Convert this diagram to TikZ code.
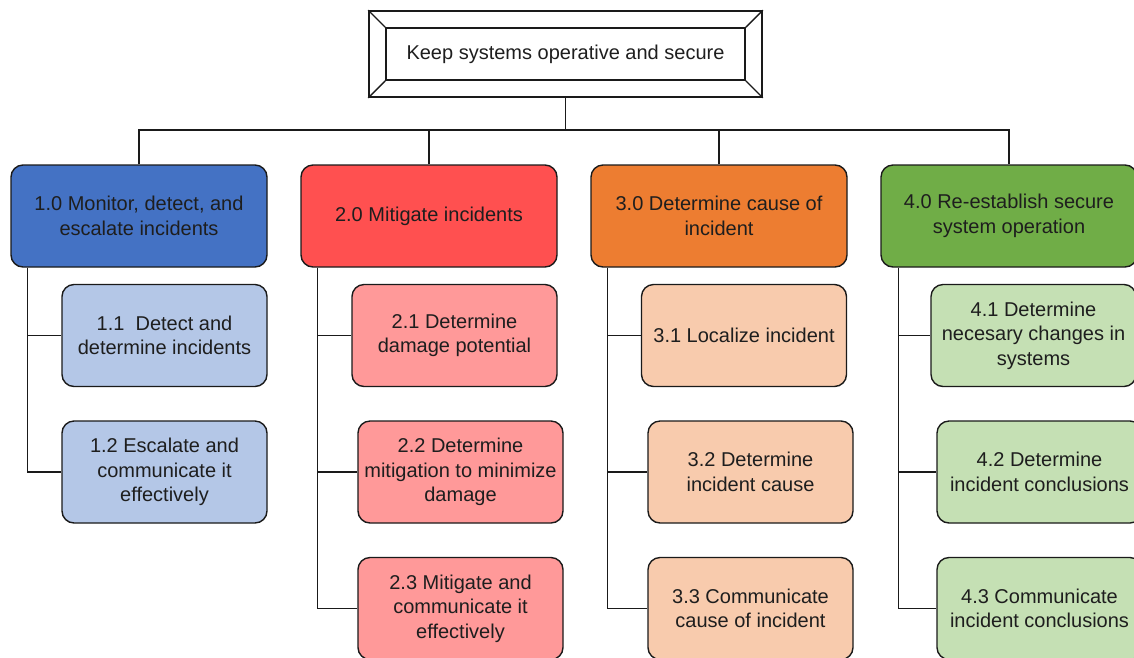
\documentclass[tikz,border=0pt]{standalone}
\usepackage{fontspec}
\setmainfont{Liberation Sans}
\usetikzlibrary{calc}
\definecolor{cBlue}{HTML}{4472C4}
\definecolor{cRed}{HTML}{FF5050}
\definecolor{cOrange}{HTML}{ED7D31}
\definecolor{cGreen}{HTML}{70AD47}
\definecolor{lBlue}{HTML}{B4C7E7}
\definecolor{lRed}{HTML}{FF9999}
\definecolor{lOrange}{HTML}{F8CBAD}
\definecolor{lGreen}{HTML}{C5E0B4}
\definecolor{txt}{HTML}{1E1E1E}
\definecolor{edge}{HTML}{1A1A1A}
\begin{document}
\begin{tikzpicture}[x=1pt,y=-1pt,
  every node/.style={font=\fontsize{20}{24.5}\selectfont, text=txt},
  lvlbox/.style={draw=edge, line width=1.4pt, rounded corners=12pt, align=center,
    minimum width=256pt, minimum height=102pt, inner sep=0pt},
  subbox/.style={draw=edge, line width=1.4pt, rounded corners=12pt, align=center,
    minimum width=205pt, minimum height=102pt, inner sep=0pt},
  link/.style={draw=edge, line width=1.4pt}]
\useasboundingbox (0,0) rectangle (1134,657);
\clip (0,0) rectangle (1134,657);
% top box
\node[draw=edge, line width=1.6pt, minimum width=393pt, minimum height=86pt, inner sep=0pt] (topout) at (565.5,54) {};
\node[draw=edge, line width=1.6pt, minimum width=359pt, minimum height=52pt, inner sep=0pt] (top) at (565.5,54) {Keep systems operative and secure};
\draw[link] (topout.north west) -- (top.north west);
\draw[link] (topout.north east) -- (top.north east);
\draw[link] (topout.south west) -- (top.south west);
\draw[link] (topout.south east) -- (top.south east);
% level 1
\node[lvlbox, fill=cBlue] (L1) at (139,216) {1.0 Monitor, detect, and\\escalate incidents};
\node[lvlbox, fill=cRed] (L2) at (429,216) {2.0 Mitigate incidents};
\node[lvlbox, fill=cOrange] (L3) at (719,216) {3.0 Determine cause of\\incident};
\node[lvlbox, fill=cGreen] (L4) at (1009,216) {4.0 Re-establish secure\\system operation};
\coordinate (bus) at (565.5,130);
\draw[link] (topout.south) -- (bus);
\draw[link] (L1.north) |- (bus) -| (L4.north);
\draw[link] (L2.north) -- (L2.north |- bus);
\draw[link] (L3.north) -- (L3.north |- bus);
% children
\node[subbox, fill=lBlue] (C11) at (164.5,335.5) {1.1\ \ Detect and\\determine incidents};
\node[subbox, fill=lBlue] (C12) at (164.5,472) {1.2 Escalate and\\communicate it\\effectively};
\node[subbox, fill=lRed] (C21) at (454.5,335.5) {2.1 Determine\\damage potential};
\node[subbox, fill=lRed] (C22) at (460.5,472) {2.2 Determine\\mitigation to minimize\\damage};
\node[subbox, fill=lRed] (C23) at (460.5,608.5) {2.3 Mitigate and\\communicate it\\effectively};
\node[subbox, fill=lOrange] (C31) at (744,335.5) {3.1 Localize incident};
\node[subbox, fill=lOrange] (C32) at (750.5,472) {3.2 Determine\\incident cause};
\node[subbox, fill=lOrange] (C33) at (750.5,608.5) {3.3 Communicate\\cause of incident};
\node[subbox, fill=lGreen] (C41) at (1033.5,335.5) {4.1 Determine\\necesary changes in\\systems};
\node[subbox, fill=lGreen] (C42) at (1039.5,472) {4.2 Determine\\incident conclusions};
\node[subbox, fill=lGreen] (C43) at (1039.5,608.5) {4.3 Communicate\\incident conclusions};
% trunks
\coordinate (T1) at ($(L1.south west)+(17,0)$);
\coordinate (T2) at ($(L2.south west)+(17,0)$);
\coordinate (T3) at ($(L3.south west)+(17,0)$);
\coordinate (T4) at ($(L4.south west)+(18,0)$);
\draw[link] (T1) |- (C12.west);
\draw[link] (T1 |- C11.west) -- (C11.west);
\draw[link] (T2) |- (C23.west);
\draw[link] (T2 |- C21.west) -- (C21.west);
\draw[link] (T2 |- C22.west) -- (C22.west);
\draw[link] (T3) |- (C33.west);
\draw[link] (T3 |- C31.west) -- (C31.west);
\draw[link] (T3 |- C32.west) -- (C32.west);
\draw[link] (T4) |- (C43.west);
\draw[link] (T4 |- C41.west) -- (C41.west);
\draw[link] (T4 |- C42.west) -- (C42.west);
\end{tikzpicture}
\end{document}
